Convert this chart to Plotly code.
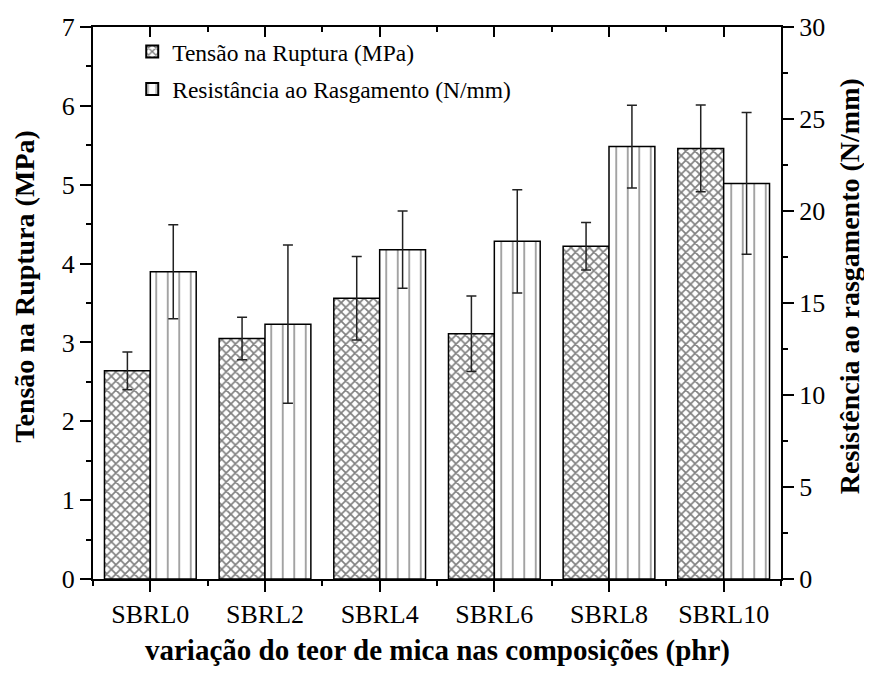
import plotly.graph_objects as go

categories = ["SBRL0", "SBRL2", "SBRL4", "SBRL6", "SBRL8", "SBRL10"]
tensao = [2.64, 3.05, 3.56, 3.11, 4.22, 5.46]
tensao_err = [0.24, 0.27, 0.53, 0.48, 0.30, 0.55]
resist = [16.7, 13.85, 17.9, 18.35, 23.5, 21.5]
resist_err = [2.55, 4.3, 2.1, 2.8, 2.25, 3.85]

xpos = list(range(len(categories)))
FONT = "Liberation Serif, Times New Roman, serif"

fig = go.Figure()
fig.add_trace(go.Bar(
    x=xpos, y=tensao, name="Tensão na Ruptura (MPa)", legendgroup="a",
    width=0.4, offset=-0.4,
    marker=dict(color="white", line=dict(color="black", width=1.5),
                pattern=dict(shape="x", fgcolor="black", bgcolor="white", size=6.5, solidity=0.45)),
    error_y=dict(type="data", array=tensao_err, color="#222", thickness=1.5, width=5),
    yaxis="y",
))
fig.add_trace(go.Bar(
    x=xpos, y=resist, name="Resistância ao Rasgamento (N/mm)", legendgroup="b",
    width=0.4, offset=0.0,
    marker=dict(color="white", line=dict(color="black", width=1.5),
                pattern=dict(shape="|", fgcolor="black", bgcolor="white", size=11.5, solidity=0.12)),
    error_y=dict(type="data", array=resist_err, color="#222", thickness=1.5, width=5),
    yaxis="y2",
))
# invisible trace to attach the mirrored top axis
fig.add_trace(go.Scatter(x=[0], y=[0], xaxis="x2", yaxis="y", mode="markers",
                         marker=dict(opacity=0), showlegend=False, hoverinfo="skip"))

fig.update_layout(
    width=864, height=668,
    margin=dict(l=85, r=91, t=19, b=97),
    paper_bgcolor="white", plot_bgcolor="white",
    font=dict(family=FONT, size=26, color="black"),
    barmode="overlay",
    showlegend=True,
    legend=dict(x=0.057, y=0.995, xanchor="left", yanchor="top",
                font=dict(family=FONT, size=23.5, color="black"),
                bgcolor="rgba(0,0,0,0)", tracegroupgap=4, traceorder="grouped",
                itemsizing="constant"),
    xaxis=dict(
        range=[-0.5, 5.5], tickmode="array", tickvals=xpos, ticktext=categories,
        showline=True, linecolor="black", linewidth=2, mirror=False,
        ticks="outside", ticklen=11, tickwidth=2, tickcolor="black",
        minor=dict(tick0=0.5, dtick=1, ticks="outside", ticklen=5, tickwidth=2, tickcolor="black"),
        showgrid=False, zeroline=False, automargin=False,
        tickfont=dict(family=FONT, size=26),
    ),
    xaxis2=dict(
        range=[-0.5, 5.5], overlaying="x", side="top", anchor="y",
        tickmode="array", tickvals=xpos, showticklabels=False,
        showline=True, linecolor="black", linewidth=2,
        ticks="inside", ticklen=10, tickwidth=2, tickcolor="black",
        minor=dict(tick0=0.5, dtick=1, ticks="inside", ticklen=5, tickwidth=2, tickcolor="black"),
        showgrid=False, zeroline=False, automargin=False,
    ),
    yaxis=dict(
        range=[0, 7], dtick=1, tick0=0,
        showline=True, linecolor="black", linewidth=2,
        ticks="outside", ticklen=11, tickwidth=2, tickcolor="black",
        minor=dict(dtick=0.5, ticks="outside", ticklen=5, tickwidth=2, tickcolor="black"),
        showgrid=False, zeroline=False, automargin=False,
        tickfont=dict(family=FONT, size=26),
    ),
    yaxis2=dict(
        range=[0, 30], dtick=5, tick0=0, overlaying="y", side="right", anchor="x",
        showline=True, linecolor="black", linewidth=2,
        ticks="outside", ticklen=11, tickwidth=2, tickcolor="black",
        minor=dict(dtick=2.5, ticks="outside", ticklen=5, tickwidth=2, tickcolor="black"),
        showgrid=False, zeroline=False, automargin=False,
        tickfont=dict(family=FONT, size=26),
    ),
    annotations=[
        dict(text="<b>variação do teor de mica nas composições (phr)</b>",
             xref="paper", yref="paper", x=0.5, y=-0.13, xanchor="center", yanchor="middle",
             showarrow=False, font=dict(family=FONT, size=29, color="black")),
        dict(text="<b>Tensão na Ruptura (MPa)</b>",
             xref="paper", yref="paper", x=-0.1, y=0.53, xanchor="center", yanchor="middle",
             textangle=-90, showarrow=False, font=dict(family=FONT, size=28, color="black")),
        dict(text="<b>Resistência ao rasgamento (N/mm)</b>",
             xref="paper", yref="paper", x=1.1, y=0.53, xanchor="center", yanchor="middle",
             textangle=-90, showarrow=False, font=dict(family=FONT, size=28, color="black")),
    ],
)

fig.write_html("out.html")
